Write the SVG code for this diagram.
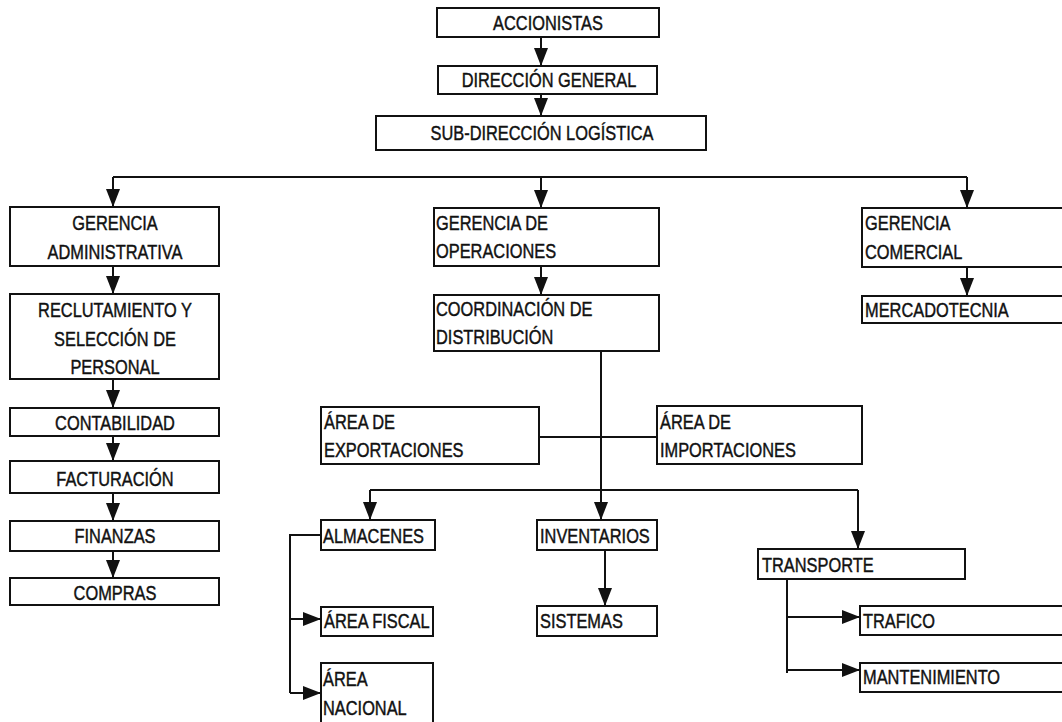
<svg xmlns="http://www.w3.org/2000/svg" width="1062" height="722" viewBox="0 0 1062 722">
  <style>
    .box { fill: #fff; stroke: #111; stroke-width: 2; }
    .ln { fill: none; stroke: #111; stroke-width: 2; }
    text { font-family: "Liberation Sans Narrow", "Arial Narrow", "Liberation Sans", Arial, sans-serif; font-size: 21px; fill: #111; stroke: #111; stroke-width: 0.45; }
    .c { text-anchor: middle; }
  </style>
  <defs>
    <marker id="ah" markerUnits="userSpaceOnUse" markerWidth="18" markerHeight="14" refX="18" refY="7" orient="auto">
      <path d="M0,0 L18,7 L0,14 z" fill="#111"/>
    </marker>
  </defs>
  <rect width="1062" height="722" fill="#fff"/>

  <g id="connectors">
    <path class="ln" d="M541,37 V66" marker-end="url(#ah)"/>
    <path class="ln" d="M541,94 V116" marker-end="url(#ah)"/>
    <path class="ln" d="M113,177 H967"/>
    <path class="ln" d="M113,177 V207" marker-end="url(#ah)"/>
    <path class="ln" d="M541,177 V208" marker-end="url(#ah)"/>
    <path class="ln" d="M967,177 V208" marker-end="url(#ah)"/>
    <path class="ln" d="M113,266 V294" marker-end="url(#ah)"/>
    <path class="ln" d="M113,379 V408" marker-end="url(#ah)"/>
    <path class="ln" d="M113,436 V461" marker-end="url(#ah)"/>
    <path class="ln" d="M113,493 V521" marker-end="url(#ah)"/>
    <path class="ln" d="M113,551 V578" marker-end="url(#ah)"/>
    <path class="ln" d="M541,266 V295" marker-end="url(#ah)"/>
    <path class="ln" d="M967,267 V296" marker-end="url(#ah)"/>
    <path class="ln" d="M601,351 V520" marker-end="url(#ah)"/>
    <path class="ln" d="M539,437 H657"/>
    <path class="ln" d="M370,490 H858"/>
    <path class="ln" d="M370,490 V520" marker-end="url(#ah)"/>
    <path class="ln" d="M858,490 V549" marker-end="url(#ah)"/>
    <path class="ln" d="M605,550 V606" marker-end="url(#ah)"/>
    <path class="ln" d="M321,535 H290 V693"/>
    <path class="ln" d="M290,619 H321" marker-end="url(#ah)"/>
    <path class="ln" d="M290,693 H321" marker-end="url(#ah)"/>
    <path class="ln" d="M787,579 V673"/>
    <path class="ln" d="M787,617 H860" marker-end="url(#ah)"/>
    <path class="ln" d="M787,670 H860" marker-end="url(#ah)"/>
  </g>

  <!-- text is drawn at reduced width to give a condensed face -->
  <g id="accionistas">
    <rect class="box" x="437" y="8" width="222" height="29"/>
    <text class="c" transform="translate(548,30) scale(0.78,1)">ACCIONISTAS</text>
  </g>
  <g id="direccion-general">
    <rect class="box" x="438" y="66" width="219" height="28"/>
    <text class="c" transform="translate(549,87) scale(0.78,1)">DIRECCIÓN GENERAL</text>
  </g>
  <g id="sub-direccion">
    <rect class="box" x="376" y="116" width="330" height="34"/>
    <text class="c" transform="translate(542,140) scale(0.78,1)">SUB-DIRECCIÓN LOGÍSTICA</text>
  </g>

  <g id="gerencia-administrativa">
    <rect class="box" x="10" y="207" width="209" height="59"/>
    <text class="c" transform="translate(115,230) scale(0.78,1)">GERENCIA</text>
    <text class="c" transform="translate(115,259) scale(0.78,1)">ADMINISTRATIVA</text>
  </g>
  <g id="reclutamiento">
    <rect class="box" x="10" y="294" width="209" height="85"/>
    <text class="c" transform="translate(115,317) scale(0.78,1)">RECLUTAMIENTO Y</text>
    <text class="c" transform="translate(115,346) scale(0.78,1)">SELECCIÓN DE</text>
    <text class="c" transform="translate(115,374) scale(0.78,1)">PERSONAL</text>
  </g>
  <g id="contabilidad">
    <rect class="box" x="10" y="408" width="209" height="28"/>
    <text class="c" transform="translate(115,430) scale(0.78,1)">CONTABILIDAD</text>
  </g>
  <g id="facturacion">
    <rect class="box" x="10" y="461" width="209" height="32"/>
    <text class="c" transform="translate(115,486) scale(0.78,1)">FACTURACIÓN</text>
  </g>
  <g id="finanzas">
    <rect class="box" x="10" y="521" width="209" height="30"/>
    <text class="c" transform="translate(115,543) scale(0.78,1)">FINANZAS</text>
  </g>
  <g id="compras">
    <rect class="box" x="10" y="578" width="209" height="27"/>
    <text class="c" transform="translate(115,600) scale(0.78,1)">COMPRAS</text>
  </g>

  <g id="gerencia-operaciones">
    <rect class="box" x="434" y="208" width="225" height="58"/>
    <text transform="translate(436,230) scale(0.78,1)">GERENCIA DE</text>
    <text transform="translate(436,258) scale(0.78,1)">OPERACIONES</text>
  </g>
  <g id="coordinacion-distribucion">
    <rect class="box" x="434" y="295" width="225" height="56"/>
    <text transform="translate(436,316) scale(0.78,1)">COORDINACIÓN DE</text>
    <text transform="translate(436,344) scale(0.78,1)">DISTRIBUCIÓN</text>
  </g>
  <g id="area-exportaciones">
    <rect class="box" x="321" y="407" width="218" height="57"/>
    <text transform="translate(324,429) scale(0.78,1)">ÁREA DE</text>
    <text transform="translate(324,457) scale(0.78,1)">EXPORTACIONES</text>
  </g>
  <g id="area-importaciones">
    <rect class="box" x="657" y="406" width="205" height="58"/>
    <text transform="translate(660,429) scale(0.78,1)">ÁREA DE</text>
    <text transform="translate(660,457) scale(0.78,1)">IMPORTACIONES</text>
  </g>
  <g id="almacenes">
    <rect class="box" x="321" y="520" width="114" height="30"/>
    <text transform="translate(323,543) scale(0.78,1)">ALMACENES</text>
  </g>
  <g id="inventarios">
    <rect class="box" x="537" y="520" width="120" height="30"/>
    <text transform="translate(540,543) scale(0.78,1)">INVENTARIOS</text>
  </g>
  <g id="sistemas">
    <rect class="box" x="537" y="606" width="120" height="30"/>
    <text transform="translate(540,628) scale(0.78,1)">SISTEMAS</text>
  </g>
  <g id="area-fiscal">
    <rect class="box" x="321" y="607" width="112" height="29"/>
    <text transform="translate(324,628) scale(0.78,1)">ÁREA FISCAL</text>
  </g>
  <g id="area-nacional">
    <rect class="box" x="321" y="663" width="112" height="62"/>
    <text transform="translate(323,686) scale(0.78,1)">ÁREA</text>
    <text transform="translate(323,715) scale(0.78,1)">NACIONAL</text>
  </g>
  <g id="transporte">
    <rect class="box" x="758" y="549" width="207" height="30"/>
    <text transform="translate(762,572) scale(0.78,1)">TRANSPORTE</text>
  </g>
  <g id="trafico">
    <rect class="box" x="860" y="606" width="210" height="29"/>
    <text transform="translate(863,628) scale(0.78,1)">TRAFICO</text>
  </g>
  <g id="mantenimiento">
    <rect class="box" x="860" y="663" width="210" height="29"/>
    <text transform="translate(863,684) scale(0.78,1)">MANTENIMIENTO</text>
  </g>

  <g id="gerencia-comercial">
    <rect class="box" x="862" y="208" width="210" height="59"/>
    <text transform="translate(865,230) scale(0.78,1)">GERENCIA</text>
    <text transform="translate(865,259) scale(0.78,1)">COMERCIAL</text>
  </g>
  <g id="mercadotecnia">
    <rect class="box" x="862" y="296" width="210" height="27"/>
    <text transform="translate(865,317) scale(0.78,1)">MERCADOTECNIA</text>
  </g>
</svg>
